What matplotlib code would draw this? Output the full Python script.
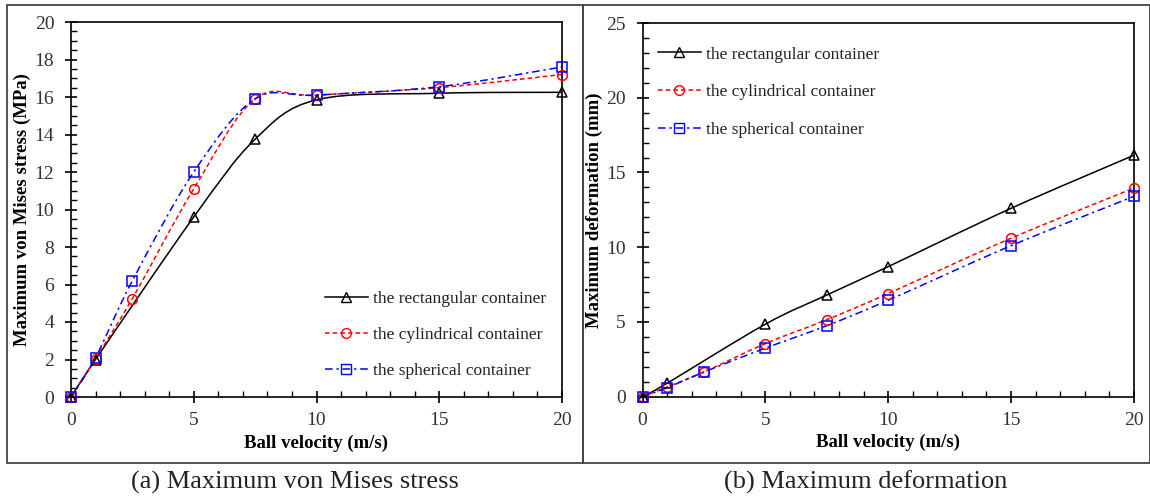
import matplotlib
matplotlib.use("Agg")
import matplotlib.pyplot as plt
from matplotlib.path import Path
from matplotlib.patches import PathPatch, Rectangle
from matplotlib.lines import Line2D
from matplotlib.ticker import MultipleLocator
import numpy as np

plt.rcParams['font.family'] = ['Liberation Serif', 'DejaVu Serif']

# ---- data ----
x_rect = [0, 1, 5, 7.5, 10, 15, 20]
x_other = [0, 1, 2.5, 5, 7.5, 10, 15, 20]

stress_rect = [0, 2.0, 9.6, 13.75, 15.85, 16.2, 16.25]
stress_cyl = [0, 2.05, 5.25, 11.1, 15.9, 16.1, 16.5, 17.2]
stress_sph = [0, 2.1, 6.2, 12.0, 15.9, 16.1, 16.55, 17.6]

deform_rect = [0, 0.9, 4.85, 6.8, 8.7, 12.6, 16.15]
deform_cyl = [0, 0.65, 1.65, 3.55, 5.15, 6.9, 10.6, 13.95]
deform_sph = [0, 0.6, 1.65, 3.25, 4.75, 6.45, 10.1, 13.4]

labels = ["the rectangular container", "the cylindrical container", "the spherical container"]
captions = ["(a) Maximum von Mises stress", "(b) Maximum deformation"]


def smooth_path(xs, ys):
    """Bezier path through the data points (Excel-like smoothed line)."""
    P = np.column_stack([xs, ys]).astype(float)
    n = len(P)
    verts = [P[0]]
    codes = [Path.MOVETO]
    for i in range(n - 1):
        p0 = P[i - 1] if i > 0 else P[i]
        p1 = P[i]
        p2 = P[i + 1]
        p3 = P[i + 2] if i + 2 < n else P[i + 1]
        c1 = p1 + (p2 - p0) / 6.0
        c2 = p2 - (p3 - p1) / 6.0
        verts += [c1, c2, p2]
        codes += [Path.CURVE4] * 3
    return Path(verts, codes)


styles = [
    dict(color='black', marker='^', dashes=None),
    dict(color='red', marker='o', dashes=(3, 2)),
    dict(color='blue', marker='s', dashes=(5, 2.5, 1.5, 2.5)),
]

fig = plt.figure(figsize=(11.5, 4.97), dpi=100)

ax1 = fig.add_axes([71 / 1150, 100 / 497, 491 / 1150, 375 / 497])
ax2 = fig.add_axes([642.5 / 1150, 100.3 / 497, 491.3 / 1150, 373.7 / 497])


def draw(ax, series):
    for (xs, ys), st in zip(series, styles):
        path = smooth_path(xs, ys)
        patch = PathPatch(path, facecolor='none', edgecolor=st['color'], lw=1.1)
        if st['dashes'] is not None:
            patch.set_linestyle((0, st['dashes']))
        ax.add_patch(patch)
        ax.plot(xs, ys, linestyle='none', marker=st['marker'], markersize=7,
                markerfacecolor='none', markeredgecolor=st['color'],
                markeredgewidth=1.1, clip_on=False, zorder=5)


draw(ax1, [(x_rect, stress_rect), (x_other, stress_cyl), (x_other, stress_sph)])
draw(ax2, [(x_rect, deform_rect), (x_other, deform_cyl), (x_other, deform_sph)])

ax1.set_xlim(0, 20)
ax1.set_ylim(0, 20)
ax2.set_xlim(0, 20)
ax2.set_ylim(0, 25)

ax1.yaxis.set_major_locator(MultipleLocator(2))
ax1.yaxis.set_minor_locator(MultipleLocator(0.5))
ax2.yaxis.set_major_locator(MultipleLocator(5))
ax2.yaxis.set_minor_locator(MultipleLocator(1))

for ax in (ax1, ax2):
    ax.xaxis.set_major_locator(MultipleLocator(5))
    ax.xaxis.set_minor_locator(MultipleLocator(1))
    ax.tick_params(which='major', direction='inout', length=8, width=1.2,
                   labelsize=14, colors='black', labelcolor='#333333')
    ax.tick_params(axis='x', which='major', pad=7)
    ax.tick_params(axis='y', which='major', pad=8)
    ax.tick_params(which='minor', direction='in', length=4, width=1.0)
    for sp in ax.spines.values():
        sp.set_linewidth(1.2)
    ax.set_xlabel("Ball velocity (m/s)", fontsize=13.5, fontweight='bold')
    ax.xaxis.set_label_coords(0.5, -0.1)

ax1.set_ylabel("Maximum von Mises stress (MPa)", fontsize=13.5, fontweight='bold')
ax1.yaxis.set_label_coords(-0.0815, 0.5)
ax2.set_ylabel("Maximum deformation (mm)", fontsize=13.5, fontweight='bold')
ax2.yaxis.set_label_coords(-0.0804, 0.5)

handles = [Line2D([], [], color=st['color'], lw=1.1, marker=st['marker'], markersize=7,
                  markerfacecolor='none', markeredgecolor=st['color'],
                  linestyle='-' if st['dashes'] is None else (0, st['dashes']))
           for st in styles]

leg_kw = dict(frameon=False, fontsize=12.5, handlelength=2.47, handletextpad=0.3,
              borderpad=0, borderaxespad=0, labelcolor='#222222')
ax1.legend(handles, labels, loc='center left', bbox_to_anchor=(0.517, 0.165),
           labelspacing=1.13, **leg_kw)
ax2.legend(handles, labels, loc='center left', bbox_to_anchor=(0.0316, 0.815),
           labelspacing=1.24, **leg_kw)

# panel frames
H = 497.0
W = 1150.0
fig.add_artist(Rectangle((7 / W, (H - 463) / H), (583 - 7) / W, (463 - 5) / H,
                         transform=fig.transFigure, fill=False, edgecolor='#444444', lw=1.3))
fig.add_artist(Rectangle((583 / W, (H - 463) / H), (1149.5 - 583) / W, (463 - 5) / H,
                         transform=fig.transFigure, fill=False, edgecolor='#444444', lw=1.3))

fig.text(295 / W, (H - 482) / H, captions[0], ha='center', va='center', fontsize=19, color='#222222')
fig.text(866 / W, (H - 482) / H, captions[1], ha='center', va='center', fontsize=19, color='#222222')

fig.savefig("out.png", dpi=100)
